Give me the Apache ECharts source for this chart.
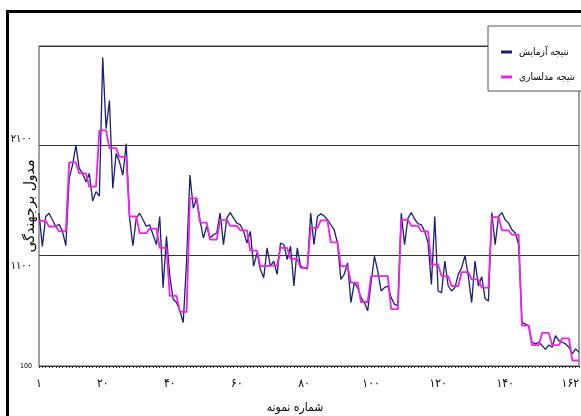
<!DOCTYPE html>
<html>
<head>
<meta charset="utf-8">
<script src="https://cdn.jsdelivr.net/npm/echarts@6/dist/echarts.min.js"></script>
<style>
html,body{margin:0;padding:0;background:#fff;}
#c{width:581px;height:416px;}
</style>
</head>
<body>
<div id="c"></div>
<script>
// sample numbers 1..162
const categories = Array.from({length:162}, (_, i) => String(i + 1));
const xTickIndices = [0, 19, 39, 59, 79, 99, 119, 139, 161];
const xTickLabels = ['۱', '۲۰', '۴۰', '۶۰', '۸۰', '۱۰۰', '۱۲۰', '۱۴۰', '۱۶۲'];
const yTickValues = [100, 1100, 2100];
const yTickLabels = ['100', '۱۱۰۰', '۲۱۰۰'];
const seriesNames = ['نتیجه آزمایش', 'نتیجه مدلسازی'];

// experiment (measured) values
const measured = [
 1485,1184,1455,1485,1425,1364,1385,1320,1190,1800,
 1920,2100,1890,1845,1770,1845,1595,1680,1640,2895,
 2250,2505,1710,2025,1950,1830,2115,1440,1190,1440,
 1485,1425,1365,1380,1290,1200,1455,810,1275,915,
 705,675,600,494,1050,1830,1530,1620,1425,1260,
 1365,1260,1290,1305,1485,1200,1440,1490,1440,1395,
 1380,1320,1215,1320,1005,1125,975,900,1170,1005,
 1050,930,1215,1200,1065,1185,825,1170,1005,990,
 980,1485,1200,1455,1480,1460,1425,1380,1335,1215,
 885,930,1035,675,855,810,720,675,600,850,
 1095,960,780,810,825,720,660,645,1485,1200,
 1440,1490,1430,1390,1380,1320,1215,840,1455,780,
 765,1050,825,780,810,930,990,1100,915,675,
 1050,825,910,710,690,1490,1200,1455,1490,1425,
 1395,1335,1305,1200,495,480,465,315,300,315,
 285,250,290,270,375,330,315,300,270,210,
 255,225
];

// model values
const modeled = [
 1415,1415,1415,1364,1364,1364,1320,1320,1320,1945,
 1945,1945,1845,1845,1845,1725,1725,1725,2235,2235,
 2235,2075,2075,2075,1995,1995,1995,1455,1455,1455,
 1305,1305,1305,1345,1345,1345,1170,1170,1170,735,
 735,735,590,590,590,1620,1620,1620,1400,1400,
 1400,1245,1245,1245,1425,1425,1425,1370,1370,1370,
 1330,1330,1330,1145,1145,1145,1005,1005,1005,1010,
 1010,1010,1170,1170,1170,1070,1070,1070,990,990,
 990,1350,1350,1350,1420,1420,1420,1220,1220,1220,
 1005,1005,1005,855,855,855,680,680,680,915,
 915,915,915,915,915,615,615,615,1425,1425,
 1425,1370,1370,1370,1320,1320,1320,1020,1020,1020,
 915,915,915,825,825,825,950,950,950,885,
 885,885,810,810,810,1450,1450,1450,1330,1330,
 1330,1290,1290,1290,465,465,465,290,290,290,
 400,400,400,290,290,290,350,350,350,150,
 150,150
];

const FONT = '"DejaVu Sans Condensed", "DejaVu Sans", sans-serif';
const chart = echarts.init(document.getElementById('c'), null, {renderer:'canvas'});
chart.setOption({
  animation: false,
  backgroundColor: '#fff',
  textStyle: {fontFamily: FONT},
  graphic: [{
    type: 'rect', silent: true, z: 100,
    shape: {x: 7.5, y: 11.5, width: 700, height: 500},
    style: {fill: 'none', stroke: '#000', lineWidth: 3}
  }],
  grid: {
    left: 39, right: 2, top: 46, bottom: 50,
    outerBoundsMode: 'none',
    containLabel: false,
    show: true, borderColor: '#444', borderWidth: 1, backgroundColor: '#fff'
  },
  legend: {
    orient: 'vertical',
    left: 488, top: 26,
    padding: [21, 7, 9, 13],
    itemGap: 15,
    itemWidth: 11, itemHeight: 3,
    icon: 'rect',
    backgroundColor: '#fff',
    borderColor: '#555', borderWidth: 1,
    textStyle: {fontFamily: FONT, fontSize: 10, color: '#000', padding: [0, 0, 0, 2]},
    data: seriesNames
  },
  xAxis: {
    type: 'category',
    data: categories,
    boundaryGap: false,
    name: 'شماره نمونه',
    nameLocation: 'middle',
    nameGap: 36,
    nameMoveOverlap: false,
    nameTextStyle: {fontFamily: FONT, fontSize: 12, color: '#000', padding: [0, 28, 0, 0]},
    axisLine: {lineStyle: {color: '#333', width: 1}},
    axisTick: {show: true, interval: 0, length: 2, lineStyle: {color: '#333'}},
    axisLabel: {
      interval: (idx) => xTickIndices.indexOf(idx) >= 0,
      formatter: (v, idx) => {
        const k = xTickIndices.indexOf(idx);
        return k >= 0 ? xTickLabels[k] : '';
      },
      alignMaxLabel: 'right',
      margin: 12, fontSize: 12, color: '#000', fontFamily: FONT
    },
    splitLine: {show: false}
  },
  yAxis: {
    type: 'value',
    min: 100, max: 3000, interval: 1000,
    name: 'مدول برجهندگی',
    nameLocation: 'middle',
    nameRotate: 90,
    nameGap: 2,
    nameMoveOverlap: false,
    nameTextStyle: {fontFamily: '"DejaVu Sans", sans-serif', fontSize: 14, color: '#000'},
    axisLine: {show: false},
    axisTick: {show: false},
    axisLabel: {
      showMaxLabel: false,
      margin: 7,
      color: '#000',
      fontFamily: FONT,
      fontSize: 11,
      formatter: (v) => {
        const k = yTickValues.indexOf(v);
        if (k < 0) return '';
        if (k === 0) return '{s|' + yTickLabels[k] + '}';
        if (k === 1) return '{lo|' + yTickLabels[k] + '}';
        return '{hi|' + yTickLabels[k] + '}';
      },
      rich: {
        s: {fontSize: 7, fontFamily: FONT, color: '#000'},
        lo: {fontSize: 11, fontFamily: FONT, color: '#000', padding: [20, 0, 0, 0]},
        hi: {fontSize: 11, fontFamily: FONT, color: '#000', padding: [0, 0, 12, 0]}
      }
    },
    splitLine: {show: true, lineStyle: {color: '#333', width: 1}}
  },
  series: [
    {
      name: seriesNames[0], type: 'line', data: measured,
      showSymbol: false, symbol: 'none',
      lineStyle: {color: '#1b1f73', width: 1.3},
      itemStyle: {color: '#1b1f73'}
    },
    {
      name: seriesNames[1], type: 'line', data: modeled,
      showSymbol: false, symbol: 'none',
      lineStyle: {color: '#ee22ee', width: 1.8},
      itemStyle: {color: '#ee22ee'}
    }
  ]
});
</script>
</body>
</html>
